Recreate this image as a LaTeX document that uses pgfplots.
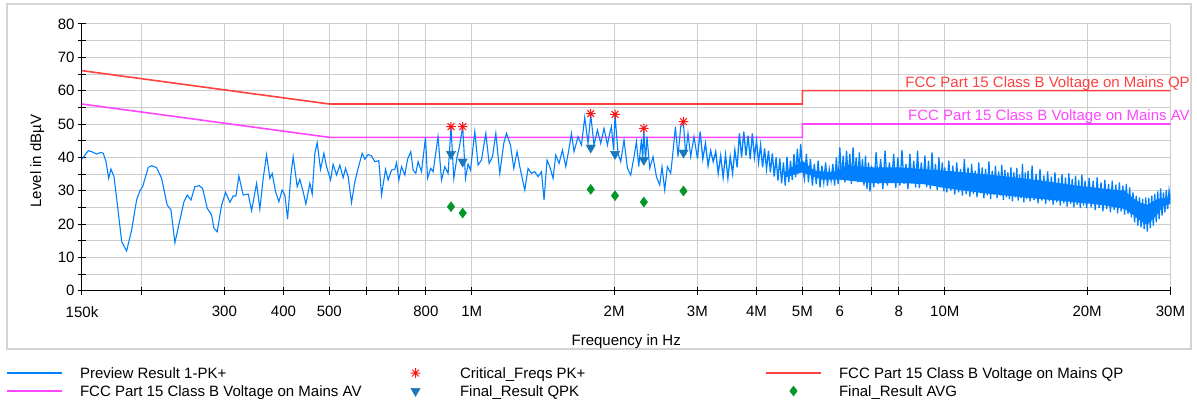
\documentclass[border=0pt]{standalone}
\usepackage{fontspec}
\setmainfont{Liberation Sans}
\usepackage{pgfplots}
\usepackage{pgfplotstable}
\pgfplotsset{compat=1.18}
\definecolor{traceblue}{RGB}{0,128,255}
\definecolor{qpred}{RGB}{255,64,64}
\definecolor{avmag}{RGB}{255,70,255}
\definecolor{starred}{RGB}{255,20,20}
\definecolor{qpkblue}{RGB}{25,120,185}
\definecolor{avggreen}{RGB}{0,150,40}
\pgfdeclareplotmark{ast8}{%
 \pgfpathmoveto{\pgfqpoint{-\pgfplotmarksize}{0pt}}\pgfpathlineto{\pgfqpoint{\pgfplotmarksize}{0pt}}%
 \pgfpathmoveto{\pgfqpoint{0pt}{-\pgfplotmarksize}}\pgfpathlineto{\pgfqpoint{0pt}{\pgfplotmarksize}}%
 \pgfpathmoveto{\pgfqpoint{-.7071\pgfplotmarksize}{-.7071\pgfplotmarksize}}\pgfpathlineto{\pgfqpoint{.7071\pgfplotmarksize}{.7071\pgfplotmarksize}}%
 \pgfpathmoveto{\pgfqpoint{-.7071\pgfplotmarksize}{.7071\pgfplotmarksize}}\pgfpathlineto{\pgfqpoint{.7071\pgfplotmarksize}{-.7071\pgfplotmarksize}}%
 \pgfusepathqstroke}
\pgfplotsset{
  lline/.style={legend image code/.code={\draw[##1] (0bp,0bp) -- (55bp,0bp);}},
  lmark/.style={legend image code/.code={\path[draw=none,fill=none] (0bp,0bp) -- (55bp,0bp); \draw[##1] plot coordinates {(27.5bp,0bp)};}},
}
\newcommand{\fs}{\fontsize{15bp}{18bp}\selectfont}

% Preview Result 1-PK+, 150 kHz - 3 MHz (f in MHz, level in dBuV)
\pgfplotstableread{
f L
0.1500 39.5
0.1547 42.0
0.1572 41.7
0.1611 41.0
0.1643 41.5
0.1664 41.2
0.1686 38.7
0.1708 33.7
0.1727 36.5
0.1753 34.2
0.1781 26.2
0.1820 14.7
0.1864 11.9
0.1910 18.2
0.1957 27.2
0.1989 30.0
0.2015 31.2
0.2071 37.0
0.2106 37.5
0.2157 36.9
0.2210 33.7
0.2271 25.7
0.2313 24.2
0.2358 14.4
0.2407 20.2
0.2464 26.7
0.2504 28.7
0.2549 27.2
0.2599 31.2
0.2654 31.5
0.2698 30.7
0.2760 24.7
0.2819 22.7
0.2851 18.7
0.2897 17.7
0.2960 25.7
0.3018 29.5
0.3082 26.5
0.3132 28.4
0.3173 28.4
0.3220 34.4
0.3288 28.7
0.3369 29.0
0.3425 24.0
0.3509 32.2
0.3566 24.5
0.3624 33.7
0.3684 40.7
0.3744 33.7
0.3786 35.2
0.3849 29.7
0.3912 26.7
0.3975 30.2
0.4027 28.7
0.4081 21.5
0.4147 34.7
0.4193 40.2
0.4276 31.2
0.4332 33.4
0.4402 29.7
0.4461 26.0
0.4548 32.2
0.4600 29.0
0.4660 41.2
0.4713 44.4
0.4791 36.4
0.4869 41.2
0.4933 37.2
0.5030 33.2
0.5094 37.9
0.5179 34.7
0.5263 37.7
0.5348 33.9
0.5411 36.7
0.5480 34.2
0.5571 26.4
0.5662 32.7
0.5753 36.7
0.5867 41.2
0.5944 39.4
0.6040 40.9
0.6141 40.4
0.6240 38.7
0.6363 39.0
0.6447 28.7
0.6574 36.4
0.6657 33.2
0.6769 36.2
0.6878 36.4
0.6935 38.4
0.7014 33.2
0.7106 37.2
0.7221 34.7
0.7317 39.4
0.7434 41.7
0.7518 36.2
0.7618 35.2
0.7704 38.7
0.7832 35.7
0.7986 46.0
0.8065 33.7
0.8195 36.7
0.8287 35.7
0.8487 46.2
0.8633 33.2
0.8772 37.2
0.8914 35.2
0.9040 49.0
0.9165 33.7
0.9313 40.2
0.9405 42.7
0.9570 49.2
0.9702 33.7
0.9825 38.0
0.9940 36.2
1.0151 47.7
1.0315 37.7
1.0487 39.2
1.0710 47.2
1.0883 38.2
1.1064 40.2
1.1244 47.2
1.1464 35.2
1.1689 44.2
1.1844 47.2
1.2075 43.7
1.2272 36.7
1.2470 41.7
1.2677 36.2
1.2947 30.2
1.3156 36.7
1.3376 35.2
1.3592 35.7
1.3812 34.2
1.4043 35.7
1.4221 27.2
1.4430 39.2
1.4622 37.2
1.4858 33.7
1.5055 40.7
1.5299 38.2
1.5553 42.2
1.5806 37.2
1.6062 42.7
1.6250 47.2
1.6456 41.7
1.6779 46.2
1.7060 43.7
1.7336 52.0
1.7616 44.2
1.7850 52.7
1.8137 43.7
1.8442 48.2
1.8739 44.2
1.9042 48.7
1.9362 43.7
1.9578 47.2
1.9741 49.2
1.9950 42.2
2.0090 52.7
2.0385 41.2
2.0655 38.7
2.0988 45.2
2.1341 36.7
2.1684 34.7
2.2034 40.2
2.2294 44.7
2.2546 37.2
2.2843 45.5
2.2990 39.0
2.3110 48.5
2.3300 38.7
2.3474 46.2
2.3785 36.7
2.4169 40.2
2.4572 34.2
2.4970 31.7
2.5252 37.2
2.5585 30.2
2.5926 37.2
2.6343 35.2
2.6639 41.7
2.6954 49.2
2.7295 40.2
2.7657 49.2
2.8030 50.2
2.8339 40.7
2.8656 47.2
2.9036 40.2
2.9504 46.2
3.0000 39.7
}\tracelow

% Preview Result 1-PK+, 3 MHz - 30 MHz
\pgfplotstableread{
f L
3.00 39.7
3.04 47.7
3.08 39.5
3.12 44.2
3.16 37.5
3.20 42.0
3.24 38.7
3.28 41.7
3.32 35.2
3.36 40.5
3.40 34.0
3.44 40.7
3.48 33.7
3.52 40.2
3.56 35.2
3.60 42.2
3.64 37.0
3.68 47.2
3.72 40.0
3.76 47.7
3.80 40.5
3.84 46.5
3.88 39.5
3.92 47.2
3.96 40.0
4.00 45.0
4.04 38.5
4.08 43.7
4.12 37.0
4.16 42.7
4.20 36.5
4.24 42.0
4.28 35.5
4.32 41.2
4.36 34.2
4.40 40.0
4.44 33.0
4.48 39.7
4.52 32.2
4.56 38.5
4.60 31.5
4.64 40.2
4.68 32.5
4.72 39.0
4.76 33.2
4.80 41.0
4.84 34.0
4.88 42.5
4.92 35.5
4.96 44.0
5.00 37.0
5.05 33.5
5.10 41.0
5.15 32.5
5.20 39.5
5.25 31.5
5.30 38.0
5.35 32.0
5.40 39.0
5.45 31.0
5.50 37.5
5.55 32.5
5.60 38.5
5.65 31.5
5.70 36.5
5.75 33.0
5.80 38.0
5.85 31.5
5.90 40.0
5.95 32.0
6.00 43.0
6.05 33.5
6.10 40.5
6.15 32.5
6.20 42.0
6.25 33.5
6.30 41.0
6.35 32.0
6.40 43.0
6.45 34.0
6.50 40.0
6.55 32.5
6.60 41.5
6.65 33.0
6.70 39.5
6.75 31.5
6.80 40.5
6.85 30.5
6.90 38.5
6.95 29.7
7.00 37.5
7.08 31.0
7.16 41.5
7.24 32.0
7.32 39.5
7.40 30.5
7.48 42.0
7.56 31.5
7.64 38.5
7.72 32.5
7.80 41.0
7.88 30.8
7.96 40.0
8.04 31.5
8.12 42.2
8.20 32.0
8.28 38.0
8.36 30.5
8.44 41.0
8.52 32.5
8.60 39.0
8.68 31.0
8.76 42.0
8.84 30.8
8.92 38.5
9.00 32.0
9.08 40.5
9.16 31.0
9.24 39.0
9.32 30.5
9.40 41.5
9.48 31.5
9.56 38.0
9.64 30.2
9.72 40.0
9.80 31.0
9.88 38.5
9.96 29.8
10.0 37.0
10.1 29.5
10.2 39.0
10.3 30.0
10.4 37.5
10.5 28.8
10.6 38.5
10.7 29.5
10.8 36.5
10.9 28.5
11.0 39.5
11.1 29.0
11.2 37.0
11.3 28.2
11.4 38.0
11.5 29.0
11.6 36.0
11.7 28.0
11.8 38.5
11.9 29.2
12.0 37.0
12.1 27.8
12.2 36.5
12.3 28.5
12.4 38.8
12.5 27.5
12.6 36.0
12.7 28.8
12.8 37.5
12.9 27.8
13.0 35.8
13.1 28.5
13.2 37.8
13.3 27.2
13.4 36.2
13.5 28.0
13.6 35.5
13.7 27.5
13.8 37.0
13.9 26.8
14.0 35.5
14.1 28.0
14.2 36.8
14.3 27.0
14.4 34.8
14.5 27.8
14.6 38.0
14.7 26.5
14.8 35.5
14.9 27.5
15.0 36.0
15.15 26.8
15.30 37.5
15.45 27.2
15.60 35.0
15.75 26.2
15.90 36.5
16.05 27.0
16.20 34.5
16.35 26.0
16.50 35.8
16.65 26.8
16.80 34.2
16.95 25.8
17.10 35.5
17.25 26.5
17.40 33.8
17.55 25.5
17.70 35.0
17.85 26.2
18.00 34.0
18.15 25.2
18.30 35.2
18.45 26.0
18.60 33.5
18.75 25.0
18.90 34.5
19.05 25.8
19.20 33.2
19.35 24.8
19.50 34.8
19.65 25.5
19.80 33.0
19.95 24.8
20.2 33.8
20.4 25.0
20.6 33.0
20.8 24.2
21.0 34.0
21.2 24.8
21.4 32.5
21.6 23.8
21.8 33.2
22.0 24.5
22.2 32.0
22.4 23.5
22.6 33.0
22.8 24.2
23.0 31.8
23.2 23.2
23.4 32.5
23.6 23.8
23.8 31.5
24.0 22.8
24.2 32.0
24.4 23.0
24.6 31.0
24.8 22.0
25.0 29.5
25.2 20.5
25.4 28.5
25.6 19.5
25.8 28.0
26.0 19.0
26.2 27.5
26.4 18.5
26.6 28.0
26.8 17.7
27.0 27.8
27.2 18.8
27.4 28.5
27.6 19.5
27.8 29.0
28.0 20.5
28.2 29.8
28.4 21.5
28.6 30.7
28.8 22.5
29.0 29.5
29.2 23.5
29.4 30.2
29.6 24.5
29.8 30.0
30.0 27.2
}\tracehigh

% solid core of the dense Preview trace (upper edge, then lower edge back)
\pgfplotstableread{
f L
4.60 35.5
5.00 39.0
5.30 36.0
5.80 35.5
6.20 37.5
7.00 37.0
8.00 37.0
9.00 36.5
10.0 36.0
11.0 35.5
12.0 35.0
13.0 34.5
14.0 34.0
15.0 33.5
16.0 33.0
17.0 32.5
18.0 32.0
19.0 31.5
20.0 31.2
22.0 30.5
24.0 30.0
25.0 27.8
26.0 26.3
26.8 25.8
28.0 27.3
30.0 28.0
30.0 26.0
29.0 25.5
28.0 22.5
26.8 19.8
26.0 20.8
25.0 22.8
24.0 24.5
22.0 25.5
20.0 26.2
18.0 26.8
16.0 27.5
14.0 28.3
12.0 29.3
10.0 30.8
9.00 32.0
8.00 32.3
7.00 32.3
6.00 33.3
5.50 33.3
5.00 35.5
4.60 34.0
}\tracecore

\begin{document}
\begin{tikzpicture}[font=\fs]
\path[use as bounding box] (0,0) rectangle (1197bp,404bp);
\draw[color=black!17, line width=1.5bp] (7bp,55bp) rectangle (1191bp,400bp);
\begin{axis}[
  at={(82bp,113.3bp)}, anchor=south west,
  scale only axis, width=1088.5bp, height=266.7bp,
  xmode=log, xmin=0.15, xmax=30, ymin=0, ymax=80,
  xtick={0.15,0.2,0.3,0.4,0.5,0.6,0.7,0.8,1,2,3,4,5,6,7,8,10,20,30},
  xticklabels={150k,,300,400,500,,,800,1M,2M,3M,4M,5M,6,,8,10M,20M,30M},
  ytick={0,10,...,80}, yticklabels={0,10,20,30,40,50,60,70,80},
  minor ytick={5,15,...,75},
  xmajorgrids, ymajorgrids, yminorgrids,
  major grid style={color=black!20, line width=1bp},
  minor grid style={color=black!20, line width=1bp},
  axis x line*=bottom, axis y line*=left,
  axis line style={black, line width=1bp, -},
  tick align=center, major tick length=8bp, minor tick length=8bp,
  tick style={black, line width=1bp},
  tick label style={font=\fs},
  xticklabel style={yshift=-8bp},
  xlabel={Frequency in Hz},
  ylabel={Level in dBµV},
  every axis label/.append style={font=\fs},
  xlabel style={at={(axis description cs:0.5,-0.19)}, anchor=center},
  ylabel style={at={(axis description cs:-0.041,0.486)}, anchor=center},
  legend columns=3,
  legend cell align=left,
  legend style={at={(axis description cs:-0.0698,-0.288)}, anchor=north west,
    draw=none, fill=none, inner sep=0pt, outer sep=0pt,
    column sep=0pt, row sep=7bp, font=\fs,
    nodes={inner sep=0pt, text height=11bp, text depth=0bp},
    /tikz/every odd column/.append style={column sep=17bp}},
]
\addplot[forget plot, color=qpred, line width=1.6bp] coordinates {(0.15,66) (0.5,56) (5,56) (5,60) (30,60)};
\addplot[forget plot, color=avmag, line width=1.6bp] coordinates {(0.15,56) (0.5,46) (5,46) (5,50) (30,50)};
\addplot[forget plot, draw=none, fill=traceblue] table[x=f,y=L] {\tracecore} -- cycle;
\addplot[forget plot, color=traceblue, line width=1.1bp] table[x=f,y=L] {\tracelow};
\addplot[forget plot, color=traceblue, line width=1.3bp] table[x=f,y=L] {\tracehigh};
\addplot[forget plot, only marks, mark=ast8, mark size=4.8bp, color=starred, line width=1bp]
  coordinates {(0.904,49.2) (0.957,49.2) (1.785,53.1) (2.009,52.9) (2.311,48.7) (2.803,50.7)};
\addplot[forget plot, only marks, mark=triangle*, mark size=5.4bp, mark options={rotate=180}, color=qpkblue]
  coordinates {(0.904,41.0) (0.957,38.7) (1.785,42.9) (2.009,41.0) (2.311,39.2) (2.803,41.4)};
\addplot[forget plot, only marks, mark=diamond*, mark size=5bp, color=avggreen]
  coordinates {(0.904,25.2) (0.957,23.3) (1.785,30.4) (2.009,28.5) (2.311,26.6) (2.803,29.9)};
\addlegendimage{lline, color=traceblue, line width=1.5bp}
\addlegendentry{\makebox[308bp][l]{Preview Result 1-PK+}}
\addlegendimage{lmark, only marks, mark=ast8, mark size=4.8bp, color=starred, line width=1bp}
\addlegendentry{\makebox[305bp][l]{Critical\_Freqs PK+}}
\addlegendimage{lline, color=qpred, line width=2bp}
\addlegendentry{FCC Part 15 Class B Voltage on Mains QP}
\addlegendimage{lline, color=avmag, line width=2bp}
\addlegendentry{\makebox[308bp][l]{FCC Part 15 Class B Voltage on Mains AV}}
\addlegendimage{lmark, only marks, mark=triangle*, mark size=5.4bp, mark options={rotate=180}, color=qpkblue}
\addlegendentry{\makebox[305bp][l]{Final\_Result QPK}}
\addlegendimage{lmark, only marks, mark=diamond*, mark size=5bp, color=avggreen}
\addlegendentry{Final\_Result AVG}
\coordinate (qp) at (axis cs:30,60);
\coordinate (av) at (axis cs:30,50);
\end{axis}
\node[anchor=base east, inner sep=0pt, text=qpred] at ([xshift=19.5bp, yshift=3.6bp]qp) {FCC Part 15 Class B Voltage on Mains QP};
\node[anchor=base east, inner sep=0pt, text=avmag] at ([xshift=19.5bp, yshift=3.6bp]av) {FCC Part 15 Class B Voltage on Mains AV};
\end{tikzpicture}
\end{document}
